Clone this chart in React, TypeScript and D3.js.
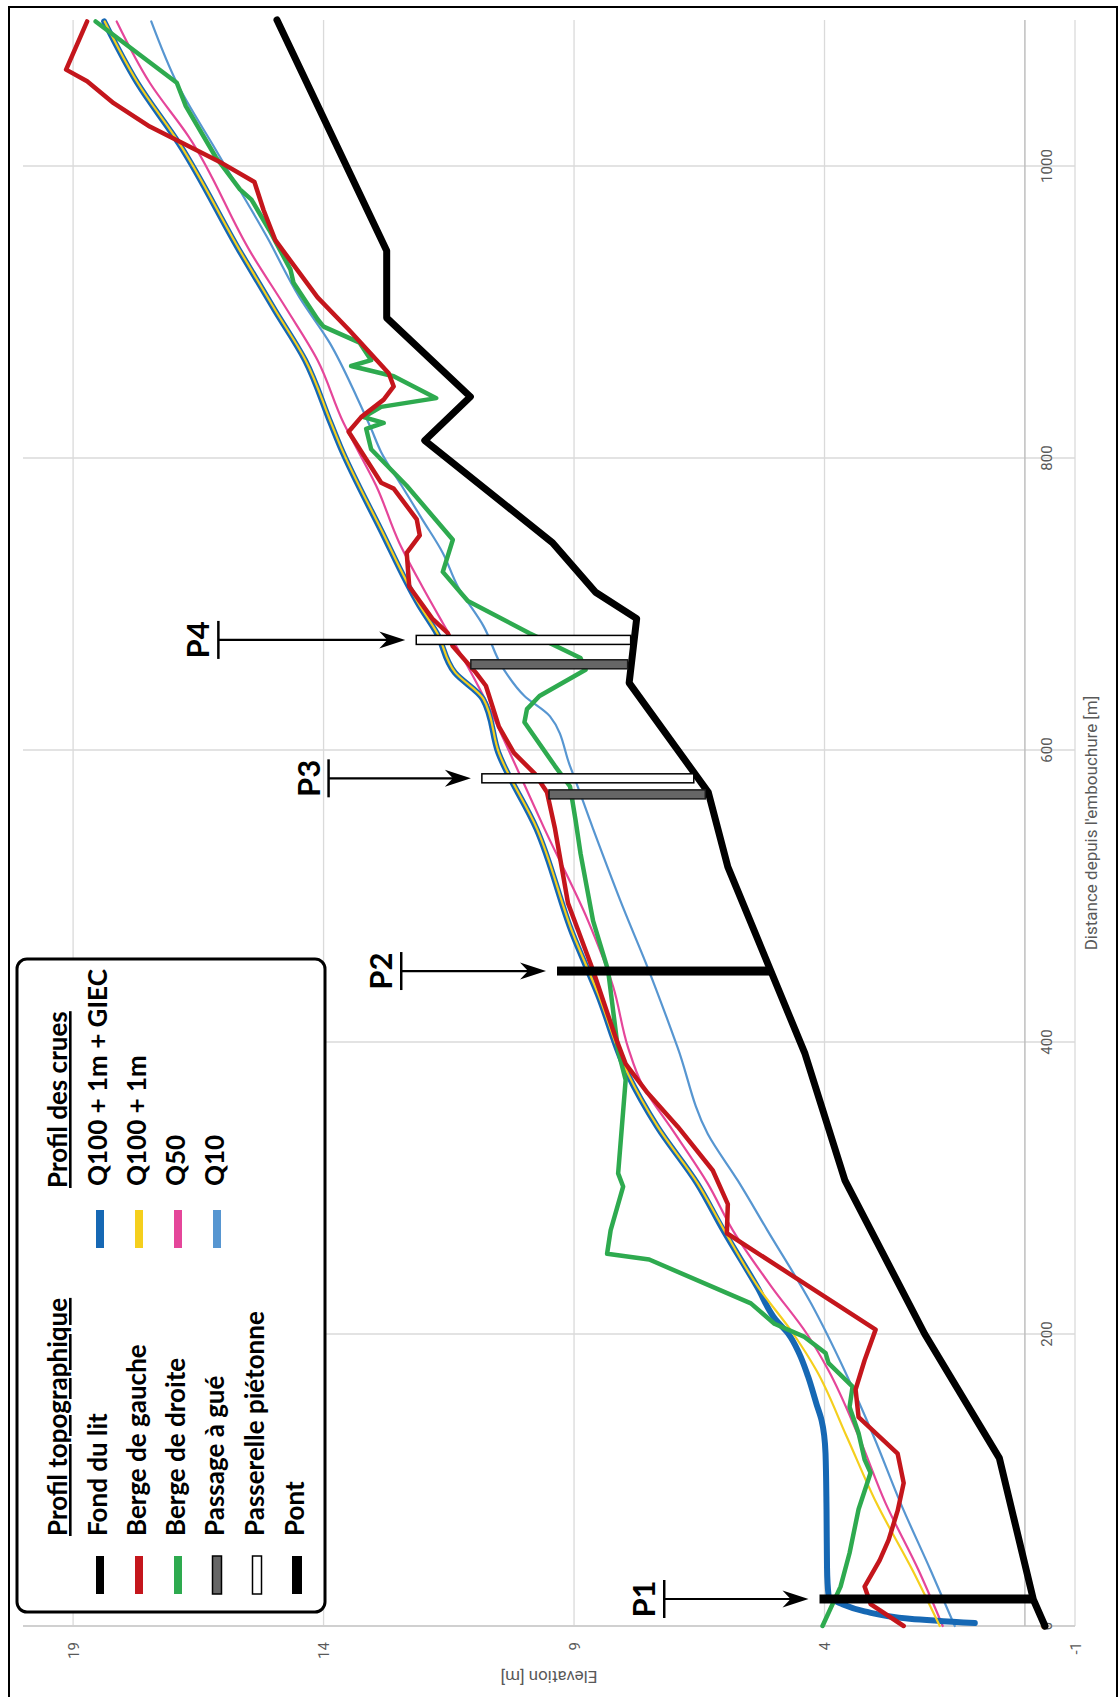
import React from 'react';
import * as d3 from 'd3';

// Page size; the chart is laid out landscape and turned a quarter turn.
const W = 1118;
const H = 1697;

type Pt = [number, number]; // [distance (m), elevation (m)]

// Topographic profile
const fondDuLit: Pt[] = [
  [0, -0.4], [18, -0.17], [115, 0.51], [200, 2.0], [305, 3.59], [392, 4.39], [520, 5.93],
  [571, 6.32], [646, 7.9], [690, 7.75], [708, 8.57], [742, 9.43], [812, 11.98], [842, 11.07],
  [896, 12.74], [942, 12.74], [1100, 14.93],
];

const bergeGauche: Pt[] = [
  [0, 2.42], [15, 3.08], [27, 3.2], [45, 2.9], [59, 2.72], [79, 2.54], [98, 2.42], [118, 2.54],
  [143, 3.32], [162, 3.38], [182, 3.2], [203, 2.98], [269, 5.95], [289, 5.93], [312, 6.23],
  [342, 6.93], [365, 7.53], [385, 7.97], [403, 8.17], [449, 8.62], [495, 9.12], [546, 9.38],
  [571, 9.54], [584, 9.79], [598, 10.2], [616, 10.5], [644, 10.76], [653, 10.96], [671, 11.42],
  [680, 11.52], [690, 11.83], [712, 12.29], [735, 12.34], [747, 12.08], [758, 12.14], [779, 12.6],
  [783, 12.85], [818, 13.5], [828, 13.25], [840, 12.8], [849, 12.6], [858, 12.7], [888, 13.5],
  [910, 14.12], [949, 14.96], [970, 15.2], [989, 15.38], [1002, 16.03], [1027, 17.47],
  [1043, 18.19], [1058, 18.72], [1066, 19.14], [1099, 18.72],
];

const bergeDroite: Pt[] = [
  [0, 4.04], [27, 3.68], [50, 3.5], [80, 3.32], [105, 3.08], [114, 3.2], [132, 3.32], [150, 3.5],
  [164, 3.44], [180, 3.92], [187, 3.98], [198, 4.4], [207, 5.0], [221, 5.47], [251, 7.5],
  [255, 8.34], [271, 8.27], [301, 8.02], [310, 8.12], [374, 7.97], [394, 8.12], [449, 8.32],
  [483, 8.62], [529, 8.87], [552, 8.97], [575, 9.08], [589, 9.38], [619, 9.99], [628, 9.94],
  [637, 9.69], [655, 8.77], [663, 8.87], [680, 9.89], [702, 11.12], [722, 11.62], [733, 11.52],
  [744, 11.42], [781, 12.34], [806, 13.05], [820, 13.15], [824, 12.8], [828, 13.2], [835, 12.85],
  [841, 11.75], [856, 12.6], [863, 13.45], [867, 13.05], [879, 13.28], [890, 14.0], [895, 14.12],
  [920, 14.6], [929, 14.66], [956, 15.08], [977, 15.44], [984, 15.67], [1006, 16.15],
  [1041, 16.75], [1057, 16.93], [1099, 18.55],
];

// Flood profiles
const q100Giec: Pt[] = [
  [2, 1.0], [5, 2.3], [10, 3.2], [15, 3.65], [21, 3.92], [40, 3.95], [80, 3.96], [118, 3.98],
  [141, 4.06], [152, 4.16], [171, 4.33], [187, 4.51], [200, 4.72], [210, 4.98], [232, 5.34],
  [271, 6.02], [303, 6.54], [342, 7.34], [378, 7.93], [433, 8.53], [474, 9.03], [546, 9.75],
  [598, 10.51], [635, 10.82], [653, 11.38], [680, 11.74], [699, 12.09], [751, 12.86],
  [808, 13.67], [824, 13.86], [867, 14.37], [901, 14.97], [942, 15.68], [1015, 16.88],
  [1057, 17.72], [1099, 18.38],
];

const q100: Pt[] = [
  [0, 1.7], [38, 2.24], [84, 2.96], [130, 3.56], [175, 4.16], [200, 4.62], [232, 5.32],
  [271, 6.0], [303, 6.53], [342, 7.33], [378, 7.92], [433, 8.52], [474, 9.02], [546, 9.74],
  [598, 10.5], [635, 10.81], [653, 11.37], [680, 11.73], [699, 12.08], [751, 12.85],
  [808, 13.66], [824, 13.85], [867, 14.36], [901, 14.96], [942, 15.67], [1015, 16.87],
  [1057, 17.71], [1099, 18.37],
];

const q50: Pt[] = [
  [0, 1.64], [38, 2.12], [84, 2.78], [130, 3.32], [175, 3.92], [200, 4.35], [232, 5.05],
  [271, 5.83], [303, 6.33], [342, 7.08], [370, 7.63], [396, 7.92], [438, 8.22], [483, 8.72],
  [546, 9.59], [607, 10.4], [637, 10.81], [662, 11.2], [687, 11.62], [712, 12.03], [742, 12.49],
  [781, 12.95], [808, 13.36], [824, 13.6], [867, 14.12], [901, 14.72], [940, 15.44],
  [1020, 16.69], [1057, 17.47], [1099, 18.13],
];

const q10: Pt[] = [
  [0, 1.4], [38, 1.88], [84, 2.48], [130, 3.02], [175, 3.6], [221, 4.27], [271, 5.14],
  [305, 5.73], [337, 6.33], [396, 6.93], [451, 7.53], [492, 8.02], [546, 8.62], [589, 9.08],
  [623, 9.48], [637, 9.99], [655, 10.4], [685, 10.81], [712, 11.32], [735, 11.62], [758, 12.03],
  [781, 12.44], [804, 12.85], [820, 13.05], [842, 13.34], [879, 13.88], [910, 14.48],
  [952, 15.14], [1011, 16.15], [1057, 16.93], [1099, 17.44],
];

// Structures: distance, bottom and top elevation
const pontDist = [18.5, 448.6];
const pontBottom = [-0.2, 5.09];
const pontTop = [4.1, 9.34];

const gueDist = [569.6, 658.7];
const gueBottom = [6.38, 7.93];
const gueTop = [9.5, 11.06];

const passerelleDist = [580.6, 675.4];
const passerelleBottom = [6.61, 7.87];
const passerelleTop = [10.84, 12.15];

// Call-outs pointing at the structures
const calloutLabels = ['P1', 'P2', 'P3', 'P4'];
const calloutDist = [pontDist[0], pontDist[1], passerelleDist[0], passerelleDist[1]];
const calloutTarget = [pontTop[0], pontTop[1], passerelleTop[0], passerelleTop[1]];
const calloutLevel = [7.2, 12.45, 13.9, 16.1];

// Axes
const distanceTicks = [0, 200, 400, 600, 800, 1000];
const elevationTicks = [-1, 4, 9, 14, 19];
const distanceTitle = "Distance depuis l'embouchure [m]";
const elevationTitle = 'Elevation [m]';

// Legend
const topoHeader = 'Profil topographique';
const topoLabels = ['Fond du lit', 'Berge de gauche', 'Berge de droite', 'Passage à gué', 'Passerelle piétonne', 'Pont'];
const crueHeader = 'Profil des crues';
const crueLabels = ['Q100 + 1m + GIEC', 'Q100 + 1m', 'Q50', 'Q10'];

const C = {
  fond: '#000000',
  gauche: '#c4161c',
  droite: '#2eaa4f',
  giec: '#1668b4',
  q100: '#f5cf1d',
  q50: '#e5469a',
  q10: '#5796d1',
  gue: '#666666',
  grid: '#dadada',
  axis: '#bfbfbf',
  label: '#595959',
};

export default function App() {
  const x = d3.scaleLinear().domain([0, 1100]).range([71, 1677]);
  const y = d3.scaleLinear().domain([-1, 20]).range([1075, 23]);

  const straight = d3.line<Pt>().x((d) => x(d[0])).y((d) => y(d[1]));
  const smooth = d3
    .line<Pt>()
    .x((d) => x(d[0]))
    .y((d) => y(d[1]))
    .curve(d3.curveMonotoneX);

  const [x0, x1] = x.range();
  const [yb, yt] = y.range();

  const lineProps = { fill: 'none', strokeLinejoin: 'round' as const, strokeLinecap: 'round' as const };

  const legendFont = { fontFamily: 'Lato, "Open Sans", sans-serif', fontWeight: 700, fontSize: 26, fill: '#000' };
  const rowBase = [107, 146, 185, 224, 264, 304];

  const topoSwatch = (i: number, v: number) => {
    const u0 = 103;
    const len = 38;
    if (i <= 2) {
      const col = [C.fond, C.gauche, C.droite][i];
      return <rect x={u0} y={v - 4} width={len} height={8} fill={col} />;
    }
    if (i === 3) return <rect x={u0} y={v - 4.5} width={len} height={9} fill={C.gue} stroke="#000" strokeWidth={1.5} />;
    if (i === 4) return <rect x={u0} y={v - 4.5} width={len} height={9} fill="#fff" stroke="#000" strokeWidth={1.5} />;
    return <rect x={u0} y={v - 5} width={len} height={10} fill={C.fond} />;
  };
  const crueColors = [C.giec, C.q100, C.q50, C.q10];

  const arrowHead = (u: number, v: number) =>
    `M${u},${v} L${u - 8.5},${v - 26} L${u},${v - 18} L${u + 8.5},${v - 26} Z`;

  return (
    <svg
      width={W}
      height={H}
      viewBox={`0 0 ${W} ${H}`}
      style={{ position: 'absolute', left: 0, top: 0, background: '#fff' }}
    >
      <rect width={W} height={H} fill="#fff" />
      <g transform={`translate(0,${H}) rotate(-90)`}>
        {/* grid */}
        {distanceTicks.filter((d) => d > 0).map((d) => (
          <line key={`gd${d}`} x1={x(d)} x2={x(d)} y1={yt} y2={yb} stroke={C.grid} strokeWidth={1.3} />
        ))}
        {elevationTicks.map((e) => (
          <line key={`ge${e}`} x1={x0} x2={x1} y1={y(e)} y2={y(e)} stroke={C.grid} strokeWidth={1.3} />
        ))}
        {/* axis lines */}
        <line x1={x0} x2={x0} y1={yt} y2={yb} stroke="#d0d0d0" strokeWidth={2} />
        <line x1={x0} x2={x1} y1={y(0)} y2={y(0)} stroke={C.axis} strokeWidth={1.5} />

        {/* distance tick labels */}
        {distanceTicks.map((d) => (
          <text key={`td${d}`} x={x(d)} y={1052} textAnchor="middle" fontFamily="Roboto, sans-serif" fontSize={15} fill={C.label}>
            {d}
          </text>
        ))}
        {/* elevation tick labels */}
        {elevationTicks.map((e) => (
          <text key={`te${e}`} x={55} y={y(e) + 5.5} textAnchor="end" fontFamily="Roboto, sans-serif" fontSize={15} fill={C.label}>
            {e}
          </text>
        ))}
        <text x={(x0 + x1) / 2} y={1097} textAnchor="middle" fontFamily="Roboto, sans-serif" fontSize={17} fill={C.label}>
          {distanceTitle}
        </text>
        <text
          transform={`translate(20,${(yt + yb) / 2}) rotate(-90)`}
          textAnchor="middle"
          dominantBaseline="central"
          fontFamily="Roboto, sans-serif"
          fontSize={17}
          fill={C.label}
        >
          {elevationTitle}
        </text>

        {/* flood profiles */}
        <path d={smooth(q10) ?? ''} stroke={C.q10} strokeWidth={2.2} {...lineProps} />
        <path d={smooth(q50) ?? ''} stroke={C.q50} strokeWidth={2.2} {...lineProps} />
        <path d={smooth(q100Giec) ?? ''} stroke={C.giec} strokeWidth={6} {...lineProps} />
        <path d={smooth(q100) ?? ''} stroke={C.q100} strokeWidth={2.2} {...lineProps} />

        {/* banks and bed */}
        <path d={straight(bergeDroite) ?? ''} stroke={C.droite} strokeWidth={4.5} {...lineProps} />
        <path d={straight(bergeGauche) ?? ''} stroke={C.gauche} strokeWidth={4.5} {...lineProps} />
        <path d={straight(fondDuLit) ?? ''} stroke={C.fond} strokeWidth={7} {...lineProps} />

        {/* structures */}
        {pontDist.map((d, i) => (
          <rect key={`pont${i}`} x={x(d) - 4.5} width={9} y={y(pontTop[i])} height={y(pontBottom[i]) - y(pontTop[i])} fill="#000" />
        ))}
        {gueDist.map((d, i) => (
          <rect key={`gue${i}`} x={x(d) - 4.5} width={9} y={y(gueTop[i])} height={y(gueBottom[i]) - y(gueTop[i])} fill={C.gue} stroke="#1a1a1a" strokeWidth={1.5} />
        ))}
        {passerelleDist.map((d, i) => (
          <rect key={`pas${i}`} x={x(d) - 4.5} width={9} y={y(passerelleTop[i])} height={y(passerelleBottom[i]) - y(passerelleTop[i])} fill="#fff" stroke="#000" strokeWidth={1.5} />
        ))}

        {/* call-outs */}
        {calloutLabels.map((lab, i) => {
          const u = x(calloutDist[i]);
          const vBar = y(calloutLevel[i]);
          const vTip = y(calloutTarget[i]) - 11;
          return (
            <g key={lab}>
              <line x1={u - 19} x2={u + 19} y1={vBar} y2={vBar} stroke="#000" strokeWidth={2.5} />
              <line x1={u} x2={u} y1={vBar} y2={vTip - 16} stroke="#000" strokeWidth={2.2} />
              <path d={arrowHead(u, vTip)} fill="#000" />
              <text x={u} y={vBar - 9} textAnchor="middle" fontFamily='Lato, "Open Sans", sans-serif' fontWeight={700} fontSize={31} fill="#000">
                {lab}
              </text>
            </g>
          );
        })}

        {/* legend */}
        <rect x={85} y={17} width={653} height={308} rx={10} fill="#fff" stroke="#000" strokeWidth={3} />
        <text x={161} y={67} {...legendFont} style={{ textDecoration: 'underline' }}>{topoHeader}</text>
        {topoLabels.map((lab, i) => (
          <g key={lab}>
            {topoSwatch(i, rowBase[i] - 7)}
            <text x={161} y={rowBase[i]} {...legendFont}>{lab}</text>
          </g>
        ))}
        <text x={509} y={67} {...legendFont} style={{ textDecoration: 'underline' }}>{crueHeader}</text>
        {crueLabels.map((lab, i) => (
          <g key={lab}>
            <rect x={449} y={rowBase[i] - 11} width={38} height={8} fill={crueColors[i]} />
            <text x={511} y={rowBase[i]} {...legendFont}>{lab}</text>
          </g>
        ))}
      </g>
      {/* page frame */}
      <path d={`M9,${H + 5} V7 H1117 V${H + 5}`} fill="none" stroke="#000" strokeWidth={2} />
    </svg>
  );
}
